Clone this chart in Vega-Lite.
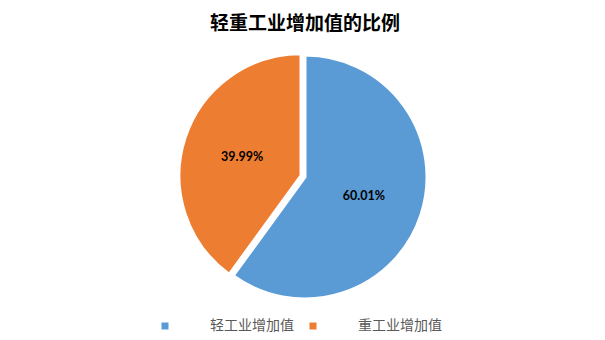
{
  "$schema": "https://vega.github.io/schema/vega-lite/v6.json",
  "autosize": {"type": "none"},
  "padding": {"left": 183, "top": 55, "right": 178, "bottom": 41},
  "width": 244,
  "height": 244,
  "background": "white",
  "view": {"stroke": null},
  "title": {
    "text": "轻重工业增加值的比例",
    "font": "Noto Sans CJK SC",
    "fontSize": 19,
    "fontWeight": "bold",
    "color": "#000000",
    "anchor": "middle",
    "offset": 14
  },
  "data": {
    "values": [
      {"category": "轻工业增加值", "value": 60.01, "pct": 0.6001},
      {"category": "重工业增加值", "value": 39.99, "pct": 0.3999}
    ]
  },
  "encoding": {
    "theta": {"field": "value", "type": "quantitative", "stack": true},
    "order": {"field": "category", "sort": "ascending"}
  },
  "layer": [
    {
      "mark": {"type": "arc", "outerRadius": 122, "stroke": "white", "strokeWidth": 3},
      "encoding": {
        "color": {
          "field": "category",
          "type": "nominal",
          "scale": {"domain": ["轻工业增加值", "重工业增加值"], "range": ["#5B9BD5", "#ED7D31"]},
          "legend": {
            "orient": "none",
            "direction": "horizontal",
            "legendX": -25,
            "legendY": 264,
            "title": null,
            "symbolType": "square",
            "symbolSize": 49,
            "symbolStrokeWidth": 0,
            "labelOffset": 38,
            "columnPadding": 12,
            "labelFont": "Noto Sans CJK SC",
            "labelFontSize": 14,
            "labelColor": "#595959"
          }
        },
        "opacity": {"condition": {"test": "datum.category === '轻工业增加值'", "value": 1}, "value": 0}
      }
    },
    {
      "mark": {"type": "arc", "outerRadius": 122, "stroke": "white", "strokeWidth": 3, "xOffset": -4, "yOffset": -1.3},
      "encoding": {
        "color": {"field": "category", "type": "nominal"},
        "opacity": {"condition": {"test": "datum.category === '重工业增加值'", "value": 1}, "value": 0}
      }
    },
    {
      "mark": {"type": "text", "radius": 62, "font": "Lato", "fontSize": 12.5, "fontWeight": "bold", "fill": "#000000"},
      "encoding": {
        "detail": {"field": "category", "type": "nominal"},
        "text": {"field": "pct", "type": "quantitative", "format": ".2%"},
        "opacity": {"condition": {"test": "datum.category === '轻工业增加值'", "value": 1}, "value": 0}
      }
    },
    {
      "mark": {"type": "text", "radius": 62, "font": "Lato", "fontSize": 12.5, "fontWeight": "bold", "fill": "#000000", "xOffset": -4, "yOffset": -1.3},
      "encoding": {
        "detail": {"field": "category", "type": "nominal"},
        "text": {"field": "pct", "type": "quantitative", "format": ".2%"},
        "opacity": {"condition": {"test": "datum.category === '重工业增加值'", "value": 1}, "value": 0}
      }
    }
  ]
}
